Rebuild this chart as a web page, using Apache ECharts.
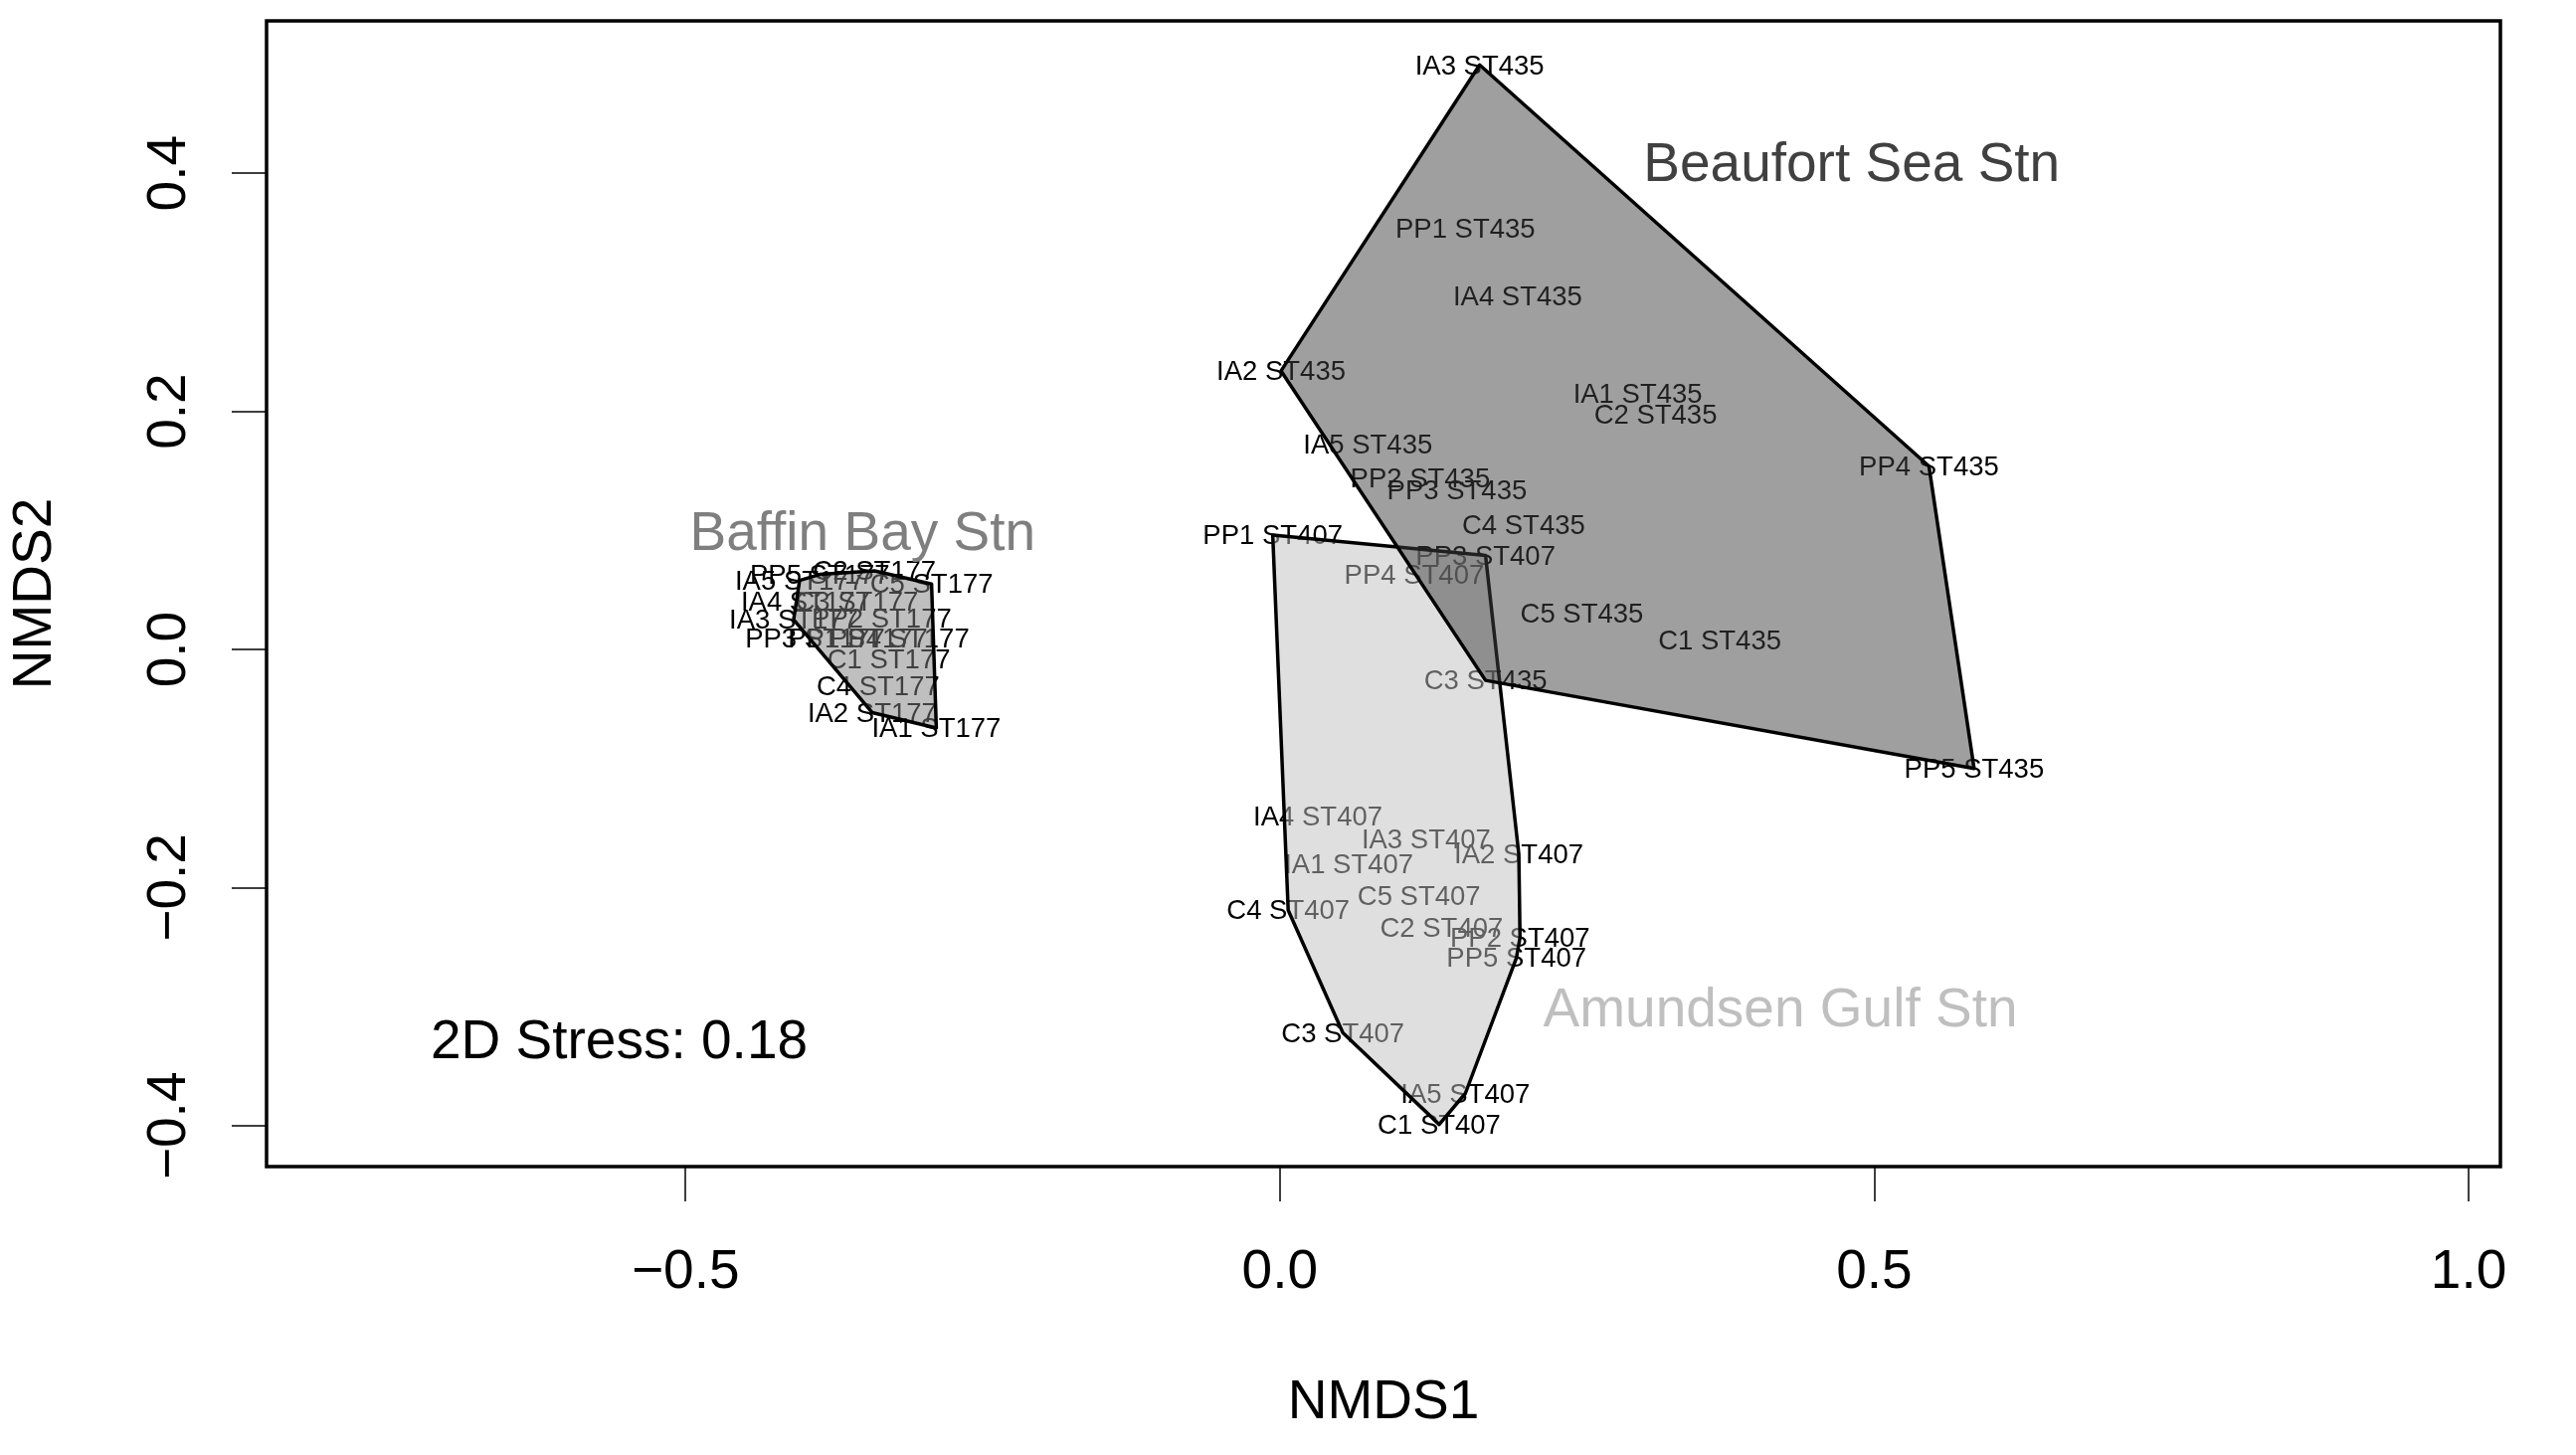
<!DOCTYPE html>
<html>
<head>
<meta charset="utf-8">
<title>NMDS</title>
<script src="https://cdn.jsdelivr.net/npm/echarts@6.0.0/dist/echarts.min.js"></script>
<style>
  html, body { margin: 0; padding: 0; background: #fff; }
  #main { width: 2590px; height: 1463px; }
</style>
</head>
<body>
<div id="main"></div>
<script>
// sample codes, same order for every station
const samples = ['C1', 'C2', 'C3', 'C4', 'C5', 'IA1', 'IA2', 'IA3', 'IA4', 'IA5', 'PP1', 'PP2', 'PP3', 'PP4', 'PP5'];

// ST407 (Amundsen Gulf)
const st407X = [0.134, 0.136, 0.053, 0.007, 0.117, 0.058, 0.201, 0.123, 0.032, 0.156, -0.006, 0.202, 0.173, 0.113, 0.199];
const st407Y = [-0.399, -0.234, -0.322, -0.219, -0.207, -0.180, -0.172, -0.159, -0.140, -0.373, 0.096, -0.242, 0.079, 0.063, -0.259];

// ST177 (Baffin Bay)
const st177X = [-0.329, -0.341, -0.356, -0.338, -0.293, -0.289, -0.343, -0.409, -0.399, -0.404, -0.355, -0.335, -0.391, -0.320, -0.387];
const st177Y = [-0.008, 0.066, 0.040, -0.031, 0.055, -0.066, -0.053, 0.025, 0.040, 0.058, 0.009, 0.026, 0.009, 0.009, 0.063];

// ST435 (Beaufort Sea)
const st435X = [0.370, 0.316, 0.173, 0.205, 0.254, 0.301, 0.001, 0.168, 0.200, 0.074, 0.156, 0.118, 0.149, 0.546, 0.584];
const st435Y = [0.008, 0.197, -0.026, 0.105, 0.030, 0.215, 0.234, 0.491, 0.297, 0.172, 0.354, 0.144, 0.134, 0.154, -0.100];

// group labels and where they sit
const stationCodes = ['ST407', 'ST177', 'ST435'];
const stationNames = ['Amundsen Gulf Stn', 'Baffin Bay Stn', 'Beaufort Sea Stn'];
const stationLabelX = [0.421, -0.351, 0.481];
const stationLabelY = [-0.301, 0.099, 0.409];

const xTicks = [-0.5, 0, 0.5, 1.0];
const yTicks = [-0.4, -0.2, 0, 0.2, 0.4];
const stressText = '2D Stress: 0.18';

const groups = [
  { code: stationCodes[0], x: st407X, y: st407Y },
  { code: stationCodes[1], x: st177X, y: st177Y },
  { code: stationCodes[2], x: st435X, y: st435Y }
];
const groupColors = ['#bfbfbf', '#7f7f7f', '#404040'];
const groupFills = ['rgba(191,191,191,0.5)', 'rgba(127,127,127,0.5)', 'rgba(64,64,64,0.5)'];
const FONT = "'Liberation Sans', Arial, Helvetica, sans-serif";

// convex hull (monotone chain) on pixel points
function hull(pts) {
  const p = pts.slice().sort((a, b) => a[0] - b[0] || a[1] - b[1]);
  const cross = (o, a, b) => (a[0] - o[0]) * (b[1] - o[1]) - (a[1] - o[1]) * (b[0] - o[0]);
  const lower = [], upper = [];
  for (const q of p) {
    while (lower.length >= 2 && cross(lower[lower.length - 2], lower[lower.length - 1], q) <= 0) lower.pop();
    lower.push(q);
  }
  for (let i = p.length - 1; i >= 0; i--) {
    const q = p[i];
    while (upper.length >= 2 && cross(upper[upper.length - 2], upper[upper.length - 1], q) <= 0) upper.pop();
    upper.push(q);
  }
  upper.pop(); lower.pop();
  return lower.concat(upper);
}

const fmt = v => (v < 0 ? '\u2212' : '') + Math.abs(v).toFixed(1);

// every sample label as one row: [x, y, text]
const sampleRows = [];
groups.forEach(g => g.x.forEach((x, i) => sampleRows.push([x, g.y[i], samples[i] + ' ' + g.code])));

// text centred on a data point (R text() style, centred on cap height)
const textItem = (api, x, y, text, size, color) => {
  const p = api.coord([x, y]);
  return {
    type: 'text',
    x: p[0],
    y: p[1] + size * 0.06,
    style: {
      text: text,
      font: size + 'px ' + FONT,
      fill: color,
      align: 'center',
      verticalAlign: 'middle'
    }
  };
};

const chart = echarts.init(document.getElementById('main'), null, { renderer: 'canvas' });
const option = {
  animation: false,
  backgroundColor: '#fff',
  grid: {
    left: 261, right: 76, top: 21, bottom: 290,
    show: true,
    borderColor: '#000',
    borderWidth: 3.5,
    backgroundColor: 'transparent'
  },
  xAxis: {
    type: 'value',
    min: -0.8524,
    max: 1.0267,
    name: 'NMDS1',
    nameLocation: 'middle',
    nameGap: 210,
    nameTextStyle: { fontSize: 55, fontFamily: FONT, color: '#000' },
    axisLine: { show: false, onZero: false },
    splitLine: { show: false },
    axisTick: {
      show: true, inside: false, length: 35,
      customValues: xTicks,
      lineStyle: { color: '#000', width: 1.5 }
    },
    axisLabel: {
      customValues: xTicks,
      formatter: fmt,
      margin: 79,
      fontSize: 55,
      fontFamily: FONT,
      color: '#000'
    }
  },
  yAxis: {
    type: 'value',
    min: -0.4344,
    max: 0.528,
    name: 'NMDS2',
    nameLocation: 'middle',
    nameRotate: 90,
    nameGap: 205,
    nameTextStyle: { fontSize: 55, fontFamily: FONT, color: '#000' },
    axisLine: { show: false, onZero: false },
    splitLine: { show: false },
    axisTick: {
      show: true, inside: false, length: 35,
      customValues: yTicks,
      lineStyle: { color: '#000', width: 1.5 }
    },
    axisLabel: {
      customValues: yTicks,
      formatter: fmt,
      rotate: 90,
      margin: 70,
      fontSize: 55,
      fontFamily: FONT,
      color: '#000'
    }
  },
  graphic: [{
    type: 'text',
    x: 433,
    y: 1049,
    style: {
      text: stressText,
      font: '55px ' + FONT,
      fill: '#000',
      align: 'left',
      verticalAlign: 'middle'
    }
  }],
  series: [
    {
      // sample labels, drawn first so the hulls shade them
      type: 'custom',
      name: 'samples',
      z: 2,
      data: sampleRows,
      renderItem: (params, api) =>
        textItem(api, api.value(0), api.value(1), sampleRows[params.dataIndex][2], 27.5, '#000')
    },
    {
      type: 'custom',
      name: 'hulls',
      z: 5,
      data: groups.map(g => [g.x[0], g.y[0]]),
      renderItem: (params, api) => {
        const g = groups[params.dataIndex];
        const pts = hull(g.x.map((x, i) => api.coord([x, g.y[i]])));
        return {
          type: 'polygon',
          shape: { points: pts },
          style: {
            fill: groupFills[params.dataIndex],
            stroke: '#000',
            lineWidth: 3.5,
            lineJoin: 'round'
          }
        };
      }
    },
    {
      type: 'custom',
      name: 'stations',
      z: 6,
      data: stationNames.map((n, i) => [stationLabelX[i], stationLabelY[i]]),
      renderItem: (params, api) =>
        textItem(api, api.value(0), api.value(1), stationNames[params.dataIndex], 55, groupColors[params.dataIndex])
    }
  ]
};
chart.setOption(option);
</script>
</body>
</html>
